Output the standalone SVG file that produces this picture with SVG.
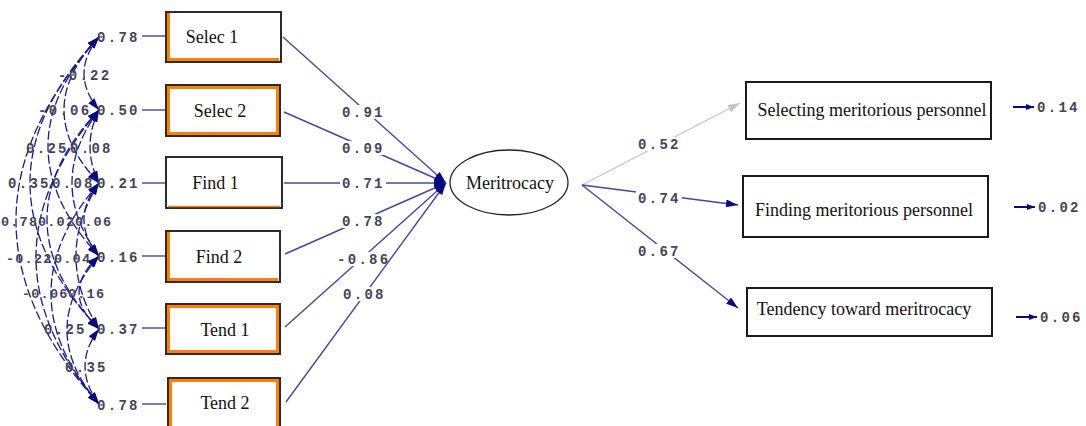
<svg xmlns="http://www.w3.org/2000/svg" width="1086" height="426" viewBox="0 0 1086 426">
<style>
.num{font-family:"Liberation Mono",monospace;font-size:14px;font-weight:bold;letter-spacing:2.3px;fill:#44445a}
.numt{font-family:"Liberation Mono",monospace;font-size:13.5px;font-weight:bold;letter-spacing:1.2px;fill:#44445a}
.lbl{font-family:"Liberation Serif",serif;font-size:18px;fill:#111;text-anchor:middle}
.outer{fill:#fff;stroke:#2b2b2b;stroke-width:2}
.org{fill:none;stroke:#ff8000;stroke-width:3}
.rbox{fill:#fff;stroke:#1a1a1a;stroke-width:2}
.path{stroke:#4646a0;stroke-width:1.4;fill:none}
.cov{stroke:#1a1a8c;stroke-width:1.3;fill:none;stroke-dasharray:9 3}
.bg{fill:#fff}
</style>
<defs>
<marker id="ah" viewBox="0 0 12 8" refX="12" refY="4" markerWidth="12" markerHeight="8" markerUnits="userSpaceOnUse" orient="auto"><path d="M0,0 L12,4 L0,8 z" fill="#0a0a80"/></marker>
<marker id="ahg" viewBox="0 0 12 8" refX="12" refY="4" markerWidth="12" markerHeight="8" markerUnits="userSpaceOnUse" orient="auto"><path d="M0,0 L12,4 L0,8 z" fill="#c4c4c4"/></marker>
<marker id="ahc" viewBox="0 0 12 8" refX="12" refY="4" markerWidth="12" markerHeight="8" markerUnits="userSpaceOnUse" orient="auto-start-reverse"><path d="M0,0 L12,4 L0,8 z" fill="#0a0a80"/></marker>
<marker id="ahs" viewBox="0 0 8 6" refX="8" refY="3" markerWidth="8" markerHeight="6" markerUnits="userSpaceOnUse" orient="auto"><path d="M0,0 L8,3 L0,6 z" fill="#0a0a80"/></marker>
</defs>

<!-- covariance arcs -->
<g id="covariances">
<path class="cov" marker-start="url(#ahc)" marker-end="url(#ahc)" d="M99,37 Q69,73.5 99,110"/>
<path class="cov" marker-start="url(#ahc)" marker-end="url(#ahc)" d="M99,37 Q29,110 99,183"/>
<path class="cov" marker-start="url(#ahc)" marker-end="url(#ahc)" d="M99,37 Q-3,146.5 99,256"/>
<path class="cov" marker-start="url(#ahc)" marker-end="url(#ahc)" d="M99,37 Q-39,183 99,329"/>
<path class="cov" marker-start="url(#ahc)" marker-end="url(#ahc)" d="M99,37 Q-67,220.5 99,404"/>
<path class="cov" marker-start="url(#ahc)" marker-end="url(#ahc)" d="M99,110 Q81,146.5 99,183"/>
<path class="cov" marker-start="url(#ahc)" marker-end="url(#ahc)" d="M99,110 Q45,183 99,256"/>
<path class="cov" marker-start="url(#ahc)" marker-end="url(#ahc)" d="M99,110 Q-5,219.5 99,329"/>
<path class="cov" marker-start="url(#ahc)" marker-end="url(#ahc)" d="M99,110 Q-27,257 99,404"/>
<path class="cov" marker-start="url(#ahc)" marker-end="url(#ahc)" d="M99,183 Q69,219.5 99,256"/>
<path class="cov" marker-start="url(#ahc)" marker-end="url(#ahc)" d="M99,183 Q53,256 99,329"/>
<path class="cov" marker-start="url(#ahc)" marker-end="url(#ahc)" d="M99,183 Q3,293.5 99,404"/>
<path class="cov" marker-start="url(#ahc)" marker-end="url(#ahc)" d="M99,256 Q59,292.5 99,329"/>
<path class="cov" marker-start="url(#ahc)" marker-end="url(#ahc)" d="M99,256 Q35,330 99,404"/>
<path class="cov" marker-start="url(#ahc)" marker-end="url(#ahc)" d="M99,329 Q71,366.5 99,404"/>
<text class="num" x="58" y="80">-0.22</text>
<text class="num" x="38" y="115">-0.06</text>
<text class="num" x="26" y="153">0.25</text>
<text class="num" x="70" y="153">0.08</text>
<text class="num" x="8" y="188">0.35</text>
<text class="num" x="52" y="188">0.08</text>
<text class="numt" x="1" y="226">0.78</text>
<text class="numt" x="38" y="226">0.02</text>
<text class="numt" x="75" y="226">0.06</text>
<text class="numt" x="6" y="263">-0.22</text>
<text class="numt" x="54" y="263">0.04</text>
<text class="numt" x="22" y="298">-0.06</text>
<text class="numt" x="68" y="298">0.16</text>
<text class="num" x="44" y="334">0.25</text>
<text class="num" x="65" y="372">0.35</text>
</g>

<!-- error terms of indicators -->
<g id="errors">
<text class="num" x="97" y="42">0.78</text>
<text class="num" x="97" y="115">0.50</text>
<text class="num" x="97" y="188">0.21</text>
<text class="num" x="97" y="262">0.16</text>
<text class="num" x="97" y="334">0.37</text>
<text class="num" x="97" y="410">0.78</text>
<g class="path" stroke-width="1.6">
<line x1="142" y1="36" x2="166" y2="36"/>
<line x1="142" y1="110" x2="166" y2="110"/>
<line x1="142" y1="183" x2="166" y2="183"/>
<line x1="142" y1="256" x2="166" y2="256"/>
<line x1="142" y1="328" x2="166" y2="328"/>
<line x1="142" y1="404" x2="166" y2="404"/>
</g>
</g>

<!-- indicator boxes -->
<g id="selec1"><rect class="outer" x="166" y="12" width="115" height="50"/><path class="org" d="M168.5,13 V59.5 H279"/><text class="lbl" x="212" y="43">Selec  1</text></g>
<g id="selec2"><rect class="outer" x="166" y="85" width="114" height="51"/><rect class="org" x="168.5" y="87.5" width="109" height="46"/><text class="lbl" x="220" y="117">Selec 2</text></g>
<g id="find1"><rect class="outer" x="166" y="157" width="116" height="51"/><path d="M168,206.5 H280" stroke="#ff8000" stroke-width="1.5"/><text class="lbl" x="215.5" y="189">Find 1</text></g>
<g id="find2"><rect class="outer" x="166" y="231" width="114" height="51"/><path class="org" d="M168.5,232 V279.5 H278"/><text class="lbl" x="219" y="263">Find 2</text></g>
<g id="tend1"><rect class="outer" x="166" y="304" width="114" height="50"/><rect class="org" x="168.5" y="306.5" width="109" height="45"/><text class="lbl" x="225" y="336">Tend 1</text></g>
<g id="tend2"><rect class="outer" x="168" y="378" width="112" height="52"/><rect class="org" x="170.5" y="380.5" width="107" height="47"/><text class="lbl" x="225" y="409">Tend 2</text></g>

<!-- latent variable -->
<g id="meritrocacy"><ellipse cx="509" cy="182.5" rx="59" ry="32.5" fill="#fff" stroke="#222" stroke-width="1.3"/><text class="lbl" x="510" y="189">Meritrocacy</text></g>

<!-- outcome boxes -->
<g id="selecting"><rect class="rbox" x="746" y="82" width="245" height="57"/><text class="lbl" x="872" y="116">Selecting meritorious personnel</text></g>
<g id="finding"><rect class="rbox" x="743" y="176" width="245" height="61"/><text class="lbl" x="864" y="216">Finding meritorious personnel</text></g>
<g id="tendency"><rect class="rbox" x="747" y="288" width="245" height="48"/><text class="lbl" x="864" y="315">Tendency toward meritrocacy</text></g>

<!-- connectors -->
<g id="connectors">
<line class="path" x1="283" y1="37" x2="446" y2="183" marker-end="url(#ah)"/>
<rect class="bg" x="340" y="105" width="46" height="14"/><text class="num" x="342" y="117">0.91</text>
<line class="path" x1="284" y1="112" x2="446" y2="183" marker-end="url(#ah)"/>
<rect class="bg" x="340" y="141" width="46" height="14"/><text class="num" x="342" y="153">0.09</text>
<line class="path" x1="284" y1="183" x2="446" y2="183" marker-end="url(#ah)"/>
<rect class="bg" x="340" y="176" width="46" height="14"/><text class="num" x="342" y="188">0.71</text>
<line class="path" x1="285" y1="254" x2="446" y2="183" marker-end="url(#ah)"/>
<rect class="bg" x="340" y="214" width="46" height="14"/><text class="num" x="342" y="226">0.78</text>
<line class="path" x1="285" y1="327" x2="446" y2="183" marker-end="url(#ah)"/>
<rect class="bg" x="335" y="252" width="57" height="14"/><text class="num" x="337" y="264">-0.86</text>
<line class="path" x1="286" y1="402" x2="446" y2="183" marker-end="url(#ah)"/>
<rect class="bg" x="341" y="287" width="46" height="14"/><text class="num" x="343" y="299">0.08</text>

<line x1="582" y1="185" x2="740" y2="103" stroke="#c4c4c4" stroke-width="1.4" marker-end="url(#ahg)"/>
<rect class="bg" x="636" y="137" width="46" height="14"/><text class="num" x="638" y="149">0.52</text>
<line class="path" x1="582" y1="185" x2="738" y2="205" marker-end="url(#ah)"/>
<rect class="bg" x="636" y="191" width="46" height="14"/><text class="num" x="638" y="203">0.74</text>
<line class="path" x1="582" y1="185" x2="738" y2="308" marker-end="url(#ah)"/>
<rect class="bg" x="636" y="244" width="46" height="14"/><text class="num" x="638" y="256">0.67</text>

<line x1="1013" y1="107" x2="1034" y2="107" stroke="#0a0a80" stroke-width="2" marker-end="url(#ahs)"/>
<text class="num" x="1037" y="112">0.14</text>
<line x1="1014" y1="207" x2="1035" y2="207" stroke="#0a0a80" stroke-width="2" marker-end="url(#ahs)"/>
<text class="num" x="1038" y="212">0.02</text>
<line x1="1016" y1="317" x2="1037" y2="317" stroke="#0a0a80" stroke-width="2" marker-end="url(#ahs)"/>
<text class="num" x="1040" y="322">0.06</text>
</g>
</svg>
